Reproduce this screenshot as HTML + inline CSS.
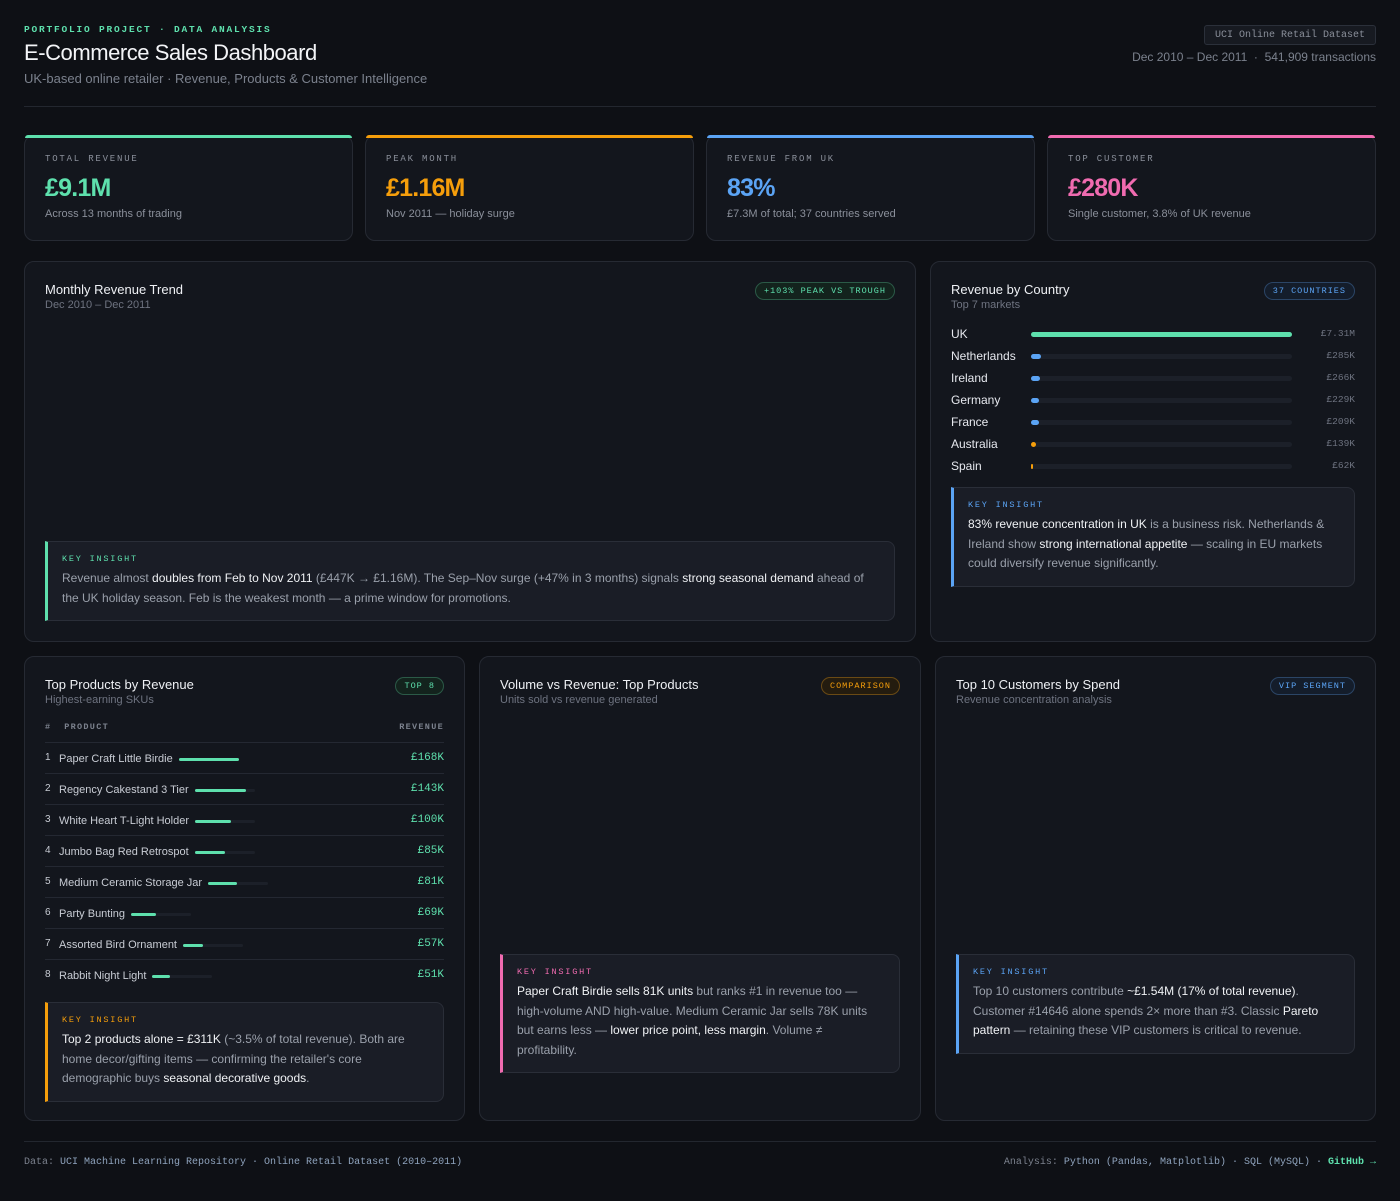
<!DOCTYPE html><html><head><meta charset="utf-8"><style>
*{box-sizing:border-box;margin:0;padding:0}
body{width:1400px;height:1201px;background:#0e1015;font-family:"Liberation Sans",sans-serif;color:#e6e8ee;position:relative;overflow:hidden}
.a{position:absolute}
.mono{font-family:"Liberation Mono",monospace}
.card{position:absolute;background:#13161d;border:1px solid #262a33;border-radius:10px}
.kpi .l{position:absolute;left:20px;top:18px;font-size:9px;letter-spacing:1.8px;color:#8a8f9a}
.kpi .v{position:absolute;left:20px;top:38px;font-size:25px;font-weight:bold;letter-spacing:-0.8px}
.kpi .s{position:absolute;left:20px;top:72px;font-size:11px;color:#8a8f9a}
.kpi .bar{position:absolute;left:0;right:0;top:-1px;height:3px;border-radius:10px 10px 0 0}
.t{position:absolute;left:20px;top:20px;font-size:13px;color:#eef0f4}
.st{position:absolute;left:20px;top:37px;font-size:11px;color:#6e7380}
.badge{position:absolute;top:20px;right:20px;height:18px;border-radius:9px;font-family:"Liberation Mono",monospace;font-size:8.5px;letter-spacing:1px;padding:0 8px;line-height:16px}
.ins{position:absolute;background:#1a1d26;border:1px solid #2a2e38;border-left:3px solid;border-radius:0 8px 8px 0;padding:12px 14px 12px 14px}
.ins .k{font-family:"Liberation Mono",monospace;font-size:8.5px;letter-spacing:1.8px;margin-bottom:5px}
.ins p{font-size:12px;line-height:19.5px;color:#9aa0ab}
.ins b{font-weight:normal;color:#f0f2f5}
.crow{position:absolute;left:20px;width:404px;height:14px}
.crow .n{position:absolute;left:0;top:-1px;font-size:12px;color:#e6e8ee}
.crow .tr{position:absolute;left:80px;width:261px;top:4px;height:5px;border-radius:3px;background:#1c2029}
.crow .f{position:absolute;left:0;top:0;height:5px;border-radius:3px}
.crow .val{position:absolute;right:0;top:0;font-family:"Liberation Mono",monospace;font-size:9.5px;color:#6e7380}
.prow{position:absolute;left:20px;width:399px;height:31px;border-top:1px solid #242832}
.prow .i{position:absolute;left:0;top:9px;font-size:10px;color:#c8ccd4}
.prow .n{position:absolute;left:14px;top:10px;font-size:11px;color:#c8ccd4;white-space:nowrap}
.prow .tr{display:inline-block;vertical-align:middle;margin-left:6px;width:60px;height:3px;border-radius:2px;background:#1c2029;position:relative}
.prow .tr i{position:absolute;left:0;top:0;height:3px;border-radius:2px;background:#5ee0ad}
.prow .r{position:absolute;right:0;top:9px;font-family:"Liberation Mono",monospace;font-size:11px;color:#5ee0ad}
</style></head><body>
<div class="a mono" style="left:24px;top:24px;font-size:9.5px;letter-spacing:1.8px;color:#5ee0ad;font-weight:bold">PORTFOLIO PROJECT · DATA ANALYSIS</div>
<div class="a" style="left:24px;top:40px;font-size:22px;letter-spacing:-0.45px;color:#f3f4f7">E-Commerce Sales Dashboard</div>
<div class="a" style="left:24px;top:71px;font-size:13px;color:#7b818d">UK-based online retailer · Revenue, Products &amp; Customer Intelligence</div>
<div class="a mono" style="left:1204px;top:25px;width:172px;height:20px;border:1px solid #2b303a;background:#171a21;border-radius:3px;font-size:10px;color:#8a8f9a;text-align:center;line-height:19px">UCI Online Retail Dataset</div>
<div class="a" style="right:24px;top:50px;font-size:12px;color:#7b818d">Dec 2010 – Dec 2011 &nbsp;·&nbsp; 541,909 transactions</div>
<div class="a" style="left:24px;top:106px;width:1352px;height:1px;background:#23272f"></div>

<div class="card kpi" style="left:24px;top:135px;width:329px;height:106px"><div class="bar" style="background:#5ee0ad"></div><div class="l mono">TOTAL REVENUE</div><div class="v" style="color:#5ee0ad">£9.1M</div><div class="s">Across 13 months of trading</div></div>
<div class="card kpi" style="left:365px;top:135px;width:329px;height:106px"><div class="bar" style="background:#f59e0b"></div><div class="l mono">PEAK MONTH</div><div class="v" style="color:#f59e0b">£1.16M</div><div class="s">Nov 2011 — holiday surge</div></div>
<div class="card kpi" style="left:706px;top:135px;width:329px;height:106px"><div class="bar" style="background:#5ba4f5"></div><div class="l mono">REVENUE FROM UK</div><div class="v" style="color:#5ba4f5">83%</div><div class="s">£7.3M of total; 37 countries served</div></div>
<div class="card kpi" style="left:1047px;top:135px;width:329px;height:106px"><div class="bar" style="background:#f06bb0"></div><div class="l mono">TOP CUSTOMER</div><div class="v" style="color:#f06bb0">£280K</div><div class="s">Single customer, 3.8% of UK revenue</div></div>

<div class="card" style="left:24px;top:261px;width:892px;height:381px">
<div class="t">Monthly Revenue Trend</div><div class="st">Dec 2010 – Dec 2011</div>
<div class="badge" style="color:#5ee0ad;border:1px solid #2b5a47;background:#13231d">+103% PEAK VS TROUGH</div>
<div class="ins" style="left:20px;top:279px;width:850px;border-left-color:#5ee0ad"><div class="k" style="color:#5ee0ad">KEY INSIGHT</div><p>Revenue almost <b>doubles from Feb to Nov 2011</b> (£447K → £1.16M). The Sep–Nov surge (+47% in 3 months) signals <b>strong seasonal demand</b> ahead of the UK holiday season. Feb is the weakest month — a prime window for promotions.</p></div>
</div>

<div class="card" style="left:930px;top:261px;width:446px;height:381px">
<div class="t">Revenue by Country</div><div class="st">Top 7 markets</div>
<div class="badge" style="color:#5ba4f5;border:1px solid #2b4566;background:#141d2b">37 COUNTRIES</div>
<div class="crow" style="top:66px"><div class="n">UK</div><div class="tr"><div class="f" style="width:261px;background:#5ee0ad"></div></div><div class="val">£7.31M</div></div>
<div class="crow" style="top:88px"><div class="n">Netherlands</div><div class="tr"><div class="f" style="width:10px;background:#5ba4f5"></div></div><div class="val">£285K</div></div>
<div class="crow" style="top:110px"><div class="n">Ireland</div><div class="tr"><div class="f" style="width:9px;background:#5ba4f5"></div></div><div class="val">£266K</div></div>
<div class="crow" style="top:132px"><div class="n">Germany</div><div class="tr"><div class="f" style="width:8px;background:#5ba4f5"></div></div><div class="val">£229K</div></div>
<div class="crow" style="top:154px"><div class="n">France</div><div class="tr"><div class="f" style="width:8px;background:#5ba4f5"></div></div><div class="val">£209K</div></div>
<div class="crow" style="top:176px"><div class="n">Australia</div><div class="tr"><div class="f" style="width:5px;background:#f59e0b"></div></div><div class="val">£139K</div></div>
<div class="crow" style="top:198px"><div class="n">Spain</div><div class="tr"><div class="f" style="width:2px;background:#f59e0b"></div></div><div class="val">£62K</div></div>
<div class="ins" style="left:20px;top:225px;width:404px;border-left-color:#5ba4f5"><div class="k" style="color:#5ba4f5">KEY INSIGHT</div><p><b>83% revenue concentration in UK</b> is a business risk. Netherlands &amp; Ireland show <b>strong international appetite</b> — scaling in EU markets could diversify revenue significantly.</p></div>
</div>

<div class="card" style="left:24px;top:656px;width:441px;height:465px">
<div class="t">Top Products by Revenue</div><div class="st">Highest-earning SKUs</div>
<div class="badge" style="color:#5ee0ad;border:1px solid #2b5a47;background:#13231d">TOP 8</div>
<div class="a mono" style="left:20px;top:65px;font-size:8.5px;letter-spacing:1.3px;color:#7b818d;font-weight:bold">#&nbsp; PRODUCT</div>
<div class="a mono" style="right:20px;top:65px;font-size:8.5px;letter-spacing:1.3px;color:#7b818d;font-weight:bold">REVENUE</div>
<div class="prow" style="top:85px"><span class="i">1</span><span class="n">Paper Craft Little Birdie<span class="tr"><i style="width:60px"></i></span></span><span class="r">£168K</span></div>
<div class="prow" style="top:116px"><span class="i">2</span><span class="n">Regency Cakestand 3 Tier<span class="tr"><i style="width:51px"></i></span></span><span class="r">£143K</span></div>
<div class="prow" style="top:147px"><span class="i">3</span><span class="n">White Heart T-Light Holder<span class="tr"><i style="width:36px"></i></span></span><span class="r">£100K</span></div>
<div class="prow" style="top:178px"><span class="i">4</span><span class="n">Jumbo Bag Red Retrospot<span class="tr"><i style="width:30px"></i></span></span><span class="r">£85K</span></div>
<div class="prow" style="top:209px"><span class="i">5</span><span class="n">Medium Ceramic Storage Jar<span class="tr"><i style="width:29px"></i></span></span><span class="r">£81K</span></div>
<div class="prow" style="top:240px"><span class="i">6</span><span class="n">Party Bunting<span class="tr"><i style="width:25px"></i></span></span><span class="r">£69K</span></div>
<div class="prow" style="top:271px"><span class="i">7</span><span class="n">Assorted Bird Ornament<span class="tr"><i style="width:20px"></i></span></span><span class="r">£57K</span></div>
<div class="prow" style="top:302px"><span class="i">8</span><span class="n">Rabbit Night Light<span class="tr"><i style="width:18px"></i></span></span><span class="r">£51K</span></div>
<div class="ins" style="left:20px;top:345px;width:399px;border-left-color:#f59e0b"><div class="k" style="color:#f59e0b">KEY INSIGHT</div><p><b>Top 2 products alone = £311K</b> (~3.5% of total revenue). Both are home decor/gifting items — confirming the retailer's core demographic buys <b>seasonal decorative goods</b>.</p></div>
</div>

<div class="card" style="left:479px;top:656px;width:442px;height:465px">
<div class="t">Volume vs Revenue: Top Products</div><div class="st">Units sold vs revenue generated</div>
<div class="badge" style="color:#f59e0b;border:1px solid #6a4a14;background:#241c0f">COMPARISON</div>
<div class="ins" style="left:20px;top:297px;width:400px;border-left-color:#f06bb0"><div class="k" style="color:#f06bb0">KEY INSIGHT</div><p><b>Paper Craft Birdie sells 81K units</b> but ranks #1 in revenue too — high-volume AND high-value. Medium Ceramic Jar sells 78K units but earns less — <b>lower price point, less margin</b>. Volume ≠ profitability.</p></div>
</div>

<div class="card" style="left:935px;top:656px;width:441px;height:465px">
<div class="t">Top 10 Customers by Spend</div><div class="st">Revenue concentration analysis</div>
<div class="badge" style="color:#5ba4f5;border:1px solid #2b4566;background:#141d2b">VIP SEGMENT</div>
<div class="ins" style="left:20px;top:297px;width:399px;border-left-color:#5ba4f5"><div class="k" style="color:#5ba4f5">KEY INSIGHT</div><p>Top 10 customers contribute <b>~£1.54M (17% of total revenue)</b>. Customer #14646 alone spends 2× more than #3. Classic <b>Pareto pattern</b> — retaining these VIP customers is critical to revenue.</p></div>
</div>

<div class="a" style="left:24px;top:1141px;width:1352px;height:1px;background:#23272f"></div>
<div class="a mono" style="left:24px;top:1157px;font-size:10px;color:#7b818d">Data: <span style="color:#8fa3bd">UCI Machine Learning Repository · Online Retail Dataset (2010–2011)</span></div>
<div class="a mono" style="right:24px;top:1157px;font-size:10px;color:#7b818d">Analysis: <span style="color:#8fa3bd">Python (Pandas, Matplotlib) · SQL (MySQL) ·</span> <span style="color:#5ee0ad;font-weight:bold">GitHub →</span></div>
</body></html>
